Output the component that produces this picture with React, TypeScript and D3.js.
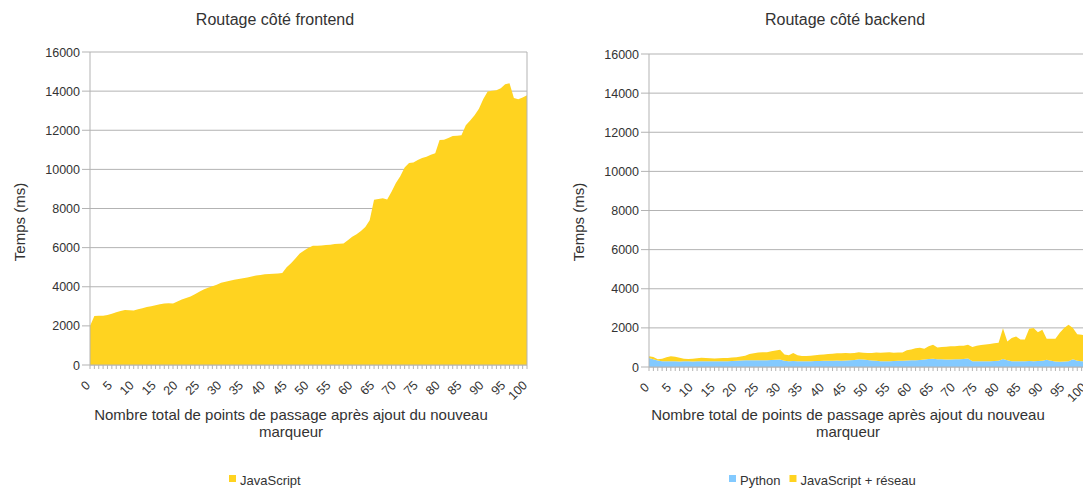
import React from "react";
import * as d3 from "d3";

const categories: number[] = Array.from({ length: 101 }, (_, i) => i);
const xTickLabels: number[] = [0, 5, 10, 15, 20, 25, 30, 35, 40, 45, 50, 55, 60, 65, 70, 75, 80, 85, 90, 95, 100];
const yTicks: number[] = [0, 2000, 4000, 6000, 8000, 10000, 12000, 14000, 16000];

const frontendJS: number[] = [
  2000, 2500, 2520, 2520, 2560, 2620, 2700, 2760, 2810, 2800,
  2790, 2850, 2900, 2960, 3000, 3050, 3100, 3150, 3160, 3150,
  3250, 3350, 3430, 3500, 3620, 3750, 3860, 3950, 4020, 4100,
  4200, 4260, 4310, 4360, 4400, 4440, 4470, 4520, 4570, 4600,
  4640, 4650, 4670, 4680, 4700, 5000, 5200, 5450, 5700, 5850,
  6000, 6090, 6100, 6110, 6130, 6150, 6180, 6200, 6210, 6380,
  6550, 6680, 6850, 7050, 7400, 8450, 8480, 8520, 8460, 8850,
  9300, 9650, 10100, 10320, 10350, 10480, 10580, 10640, 10750, 10820,
  11500, 11520, 11600, 11700, 11720, 11740, 12250, 12500, 12770, 13100,
  13600, 13980, 14020, 14050, 14150, 14350, 14400, 13650, 13580, 13680,
  13790,
];

const backendPython: number[] = [
  460, 400, 330, 300, 300, 290, 290, 280, 290, 290,
  280, 290, 300, 300, 290, 300, 290, 300, 300, 310,
  320, 330, 340, 340, 350, 340, 340, 350, 360, 370,
  380, 320, 300, 310, 300, 300, 300, 300, 310, 310,
  320, 320, 320, 330, 320, 330, 340, 360, 400, 380,
  360, 330, 320, 300, 300, 300, 310, 320, 320, 330,
  340, 350, 360, 380, 410, 420, 400, 390, 380, 380,
  390, 400, 410, 430, 300, 290, 290, 300, 300, 310,
  320, 410, 340, 290, 300, 300, 300, 310, 300, 310,
  320, 370, 320, 280, 270, 280, 300, 400, 320, 290,
  300,
];

const backendJSReseau: number[] = [
  85, 110, 70, 120, 200, 255, 230, 190, 130, 120,
  140, 160, 170, 160, 160, 140, 160, 160, 160, 170,
  180, 210, 240, 320, 350, 400, 410, 410, 440, 470,
  500, 320, 300, 410, 300, 260, 260, 280, 290, 310,
  320, 340, 360, 370, 380, 390, 360, 360, 360, 350,
  360, 390, 420, 430, 440, 450, 420, 420, 420, 530,
  560, 610, 620, 550, 650, 720, 600, 630, 660, 680,
  670, 680, 680, 710, 720, 790, 830, 850, 880, 900,
  920, 1570, 960, 1190, 1260, 1100, 1100, 1640, 1690, 1470,
  1580, 1080, 1120, 1170, 1480, 1720, 1860, 1600, 1360, 1360,
  1300,
];

const YELLOW = "#ffd320";
const BLUE = "#83caff";
const GRID = "#b3b3b3";
const TEXT = "#333333";
const FONT = "'Liberation Sans', Arial, sans-serif";

type Series = { name: string; color: string; values: number[] };

interface PanelProps {
  title: string;
  left: number;
  right: number;
  top: number;
  bottom: number;
  titleX: number;
  yTitleX: number;
  xTitleX: number;
  series: Series[];
  legendX: number;
}

let measureCtx: CanvasRenderingContext2D | null = null;
function textWidth(s: string, size: number): number {
  if (!measureCtx && typeof document !== "undefined") {
    measureCtx = document.createElement("canvas").getContext("2d");
  }
  if (!measureCtx) return s.length * size * 0.5;
  measureCtx.font = `${size}px 'Liberation Sans', Arial, sans-serif`;
  return measureCtx.measureText(s).width;
}

function Panel(p: PanelProps) {
  const x = d3.scaleLinear().domain([0, 100]).range([p.left, p.right]);
  const y = d3.scaleLinear().domain([0, 16000]).range([p.bottom, p.top]);

  const rows = categories.map((c, i) => {
    const r: Record<string, number> = { c };
    p.series.forEach((s) => (r[s.name] = s.values[i]));
    return r;
  });
  const stack = d3.stack<Record<string, number>>().keys(p.series.map((s) => s.name));
  const layers = stack(rows);
  const area = d3
    .area<d3.SeriesPoint<Record<string, number>>>()
    .x((d) => x(d.data.c))
    .y0((d) => y(d[0]))
    .y1((d) => y(d[1]));

  const LEG = 13;
  let lx = p.legendX;
  const legendItems = p.series.map((s) => {
    const item = { s, x: lx };
    lx += 11 + textWidth(s.name, LEG) + 9;
    return item;
  });

  return (
    <g>
      <text x={p.titleX} y={25} textAnchor="middle" fontSize={16} fill={TEXT} fontFamily={FONT}>
        {p.title}
      </text>
      {yTicks.map((t) => (
        <g key={t}>
          <line x1={p.left - 8} x2={p.right} y1={y(t)} y2={y(t)} stroke={GRID} strokeWidth={1} />
          <text x={p.left - 10} y={y(t) + 4.5} textAnchor="end" fontSize={12.5} fill={TEXT} fontFamily={FONT}>
            {t}
          </text>
        </g>
      ))}
      {layers.map((layer, i) => (
        <path key={i} d={area(layer) || ""} fill={p.series[i].color} />
      ))}
      <line x1={p.left} x2={p.left} y1={p.top} y2={p.bottom} stroke={GRID} strokeWidth={1} />
      <line x1={p.right} x2={p.right} y1={p.top} y2={p.bottom} stroke={GRID} strokeWidth={1} />
      <line x1={p.left} x2={p.right} y1={p.bottom} y2={p.bottom} stroke={GRID} strokeWidth={1} />
      {categories.map((c) => (
        <line key={c} x1={x(c)} x2={x(c)} y1={p.bottom} y2={p.bottom + 4} stroke={GRID} strokeWidth={1} />
      ))}
      {xTickLabels.map((t) => (
        <text
          key={t}
          transform={`translate(${x(t) + 1},${p.bottom + 21}) rotate(-45)`}
          textAnchor="end"
          fontSize={12.5}
          fill={TEXT}
          fontFamily={FONT}
        >
          {t}
        </text>
      ))}
      <text
        transform={`translate(${p.yTitleX},222) rotate(-90)`}
        textAnchor="middle"
        fontSize={15}
        fill={TEXT}
        fontFamily={FONT}
      >
        Temps (ms)
      </text>
      <text x={p.xTitleX} y={420} textAnchor="middle" fontSize={15} fill={TEXT} fontFamily={FONT}>
        Nombre total de points de passage après ajout du nouveau
      </text>
      <text x={p.xTitleX} y={437} textAnchor="middle" fontSize={15} fill={TEXT} fontFamily={FONT}>
        marqueur
      </text>
      {legendItems.map(({ s, x: ix }) => (
        <g key={s.name}>
          <rect x={ix} y={475} width={7} height={7} fill={s.color} />
          <text x={ix + 11} y={485} fontSize={LEG} fill={TEXT} fontFamily={FONT}>
            {s.name}
          </text>
        </g>
      ))}
    </g>
  );
}

export default function App() {
  return (
    <svg
      width={1083}
      height={490}
      style={{ position: "absolute", left: 0, top: 0, background: "#fff" }}
    >
      <rect x={0} y={0} width={1083} height={490} fill="#fff" />
      <Panel
        title="Routage côté frontend"
        left={90}
        right={527}
        top={52}
        bottom={365}
        titleX={275}
        yTitleX={25}
        xTitleX={291}
        series={[{ name: "JavaScript", color: YELLOW, values: frontendJS }]}
        legendX={229}
      />
      <Panel
        title="Routage côté backend"
        left={649}
        right={1086}
        top={54}
        bottom={367}
        titleX={845}
        yTitleX={584}
        xTitleX={848}
        series={[
          { name: "Python", color: BLUE, values: backendPython },
          { name: "JavaScript + réseau", color: YELLOW, values: backendJSReseau },
        ]}
        legendX={729}
      />
    </svg>
  );
}
